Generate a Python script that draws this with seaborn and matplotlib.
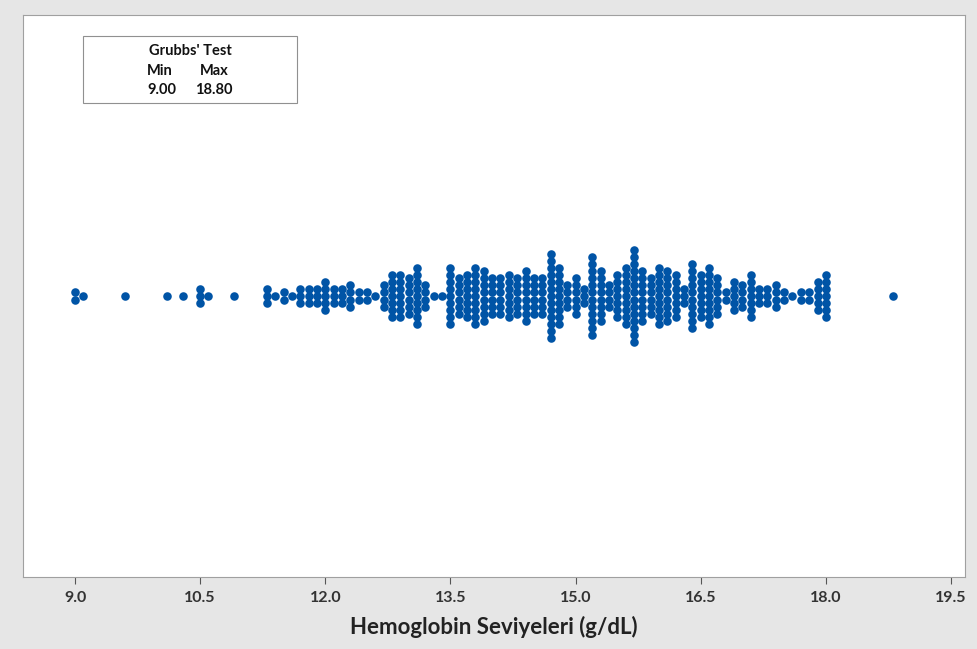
import numpy as np
import pandas as pd
import matplotlib
matplotlib.use("Agg")
import matplotlib.pyplot as plt
import seaborn as sns

# Hemoglobin values (g/dL) and how many observations share each value
hb_values = [9.0, 9.1, 9.6, 10.1, 10.3, 10.5, 10.6, 10.9,
             11.3, 11.4, 11.5, 11.6, 11.7, 11.8, 11.9, 12.0, 12.1, 12.2, 12.3, 12.4,
             12.5, 12.6, 12.7, 12.8, 12.9, 13.0, 13.1, 13.2, 13.3, 13.4, 13.5, 13.6,
             13.7, 13.8, 13.9, 14.0, 14.1, 14.2, 14.3, 14.4, 14.5, 14.6, 14.7, 14.8,
             14.9, 15.0, 15.1, 15.2, 15.3, 15.4, 15.5, 15.6, 15.7, 15.8, 15.9, 16.0,
             16.1, 16.2, 16.3, 16.4, 16.5, 16.6, 16.7, 16.8, 16.9, 17.0, 17.1, 17.2,
             17.3, 17.4, 17.5, 17.6, 17.7, 17.8, 17.9, 18.0, 18.8]
hb_counts = [2, 1, 1, 1, 1, 3, 1, 1,
             3, 1, 2, 1, 3, 3, 3, 5, 3, 3, 4, 2,
             2, 1, 4, 7, 7, 6, 9, 4, 1, 1, 9, 6,
             7, 9, 8, 6, 6, 7, 6, 8, 6, 6, 13, 9,
             4, 6, 3, 12, 8, 4, 7, 9, 14, 8, 6, 9,
             8, 7, 3, 10, 7, 9, 6, 2, 5, 4, 7, 3,
             3, 4, 2, 1, 2, 2, 5, 7, 1]
x_ticks = [9.0, 10.5, 12.0, 13.5, 15.0, 16.5, 18.0, 19.5]
grubbs_min = "9.00"
grubbs_max = "18.80"

# symmetric stacking of identical values (dot-plot layout)
step = 0.0252
xs, ys = [], []
for v, n in zip(hb_values, hb_counts):
    for i in range(n):
        xs.append(v)
        ys.append((i - (n - 1) / 2) * step)
df = pd.DataFrame({"Hb": xs, "stack": ys})

sns.set_theme(style="white")
plt.rcParams['font.family'] = ['Lato', 'DejaVu Sans']

fig = plt.figure(figsize=(9.77, 6.49), dpi=100, facecolor="#E6E6E6")
ax = fig.add_axes([23/977, 72/649, 942/977, 562/649])
ax.set_facecolor("white")

sns.scatterplot(data=df, x="Hb", y="stack", ax=ax, color="#0054A6",
                s=38, linewidth=0, legend=False)

ax.set_xlim(8.3765, 19.668)
ax.set_ylim(-1, 1)
ax.set_xticks(x_ticks)
ax.set_xticklabels([f"{t:.1f}" for t in x_ticks])
ax.set_yticks([])
ax.set_ylabel("")
ax.set_xlabel("Hemoglobin Seviyeleri (g/dL)", fontsize=16, fontweight="bold",
              color="#222222", labelpad=8)
ax.tick_params(axis="x", bottom=True, direction="out", length=5, width=0.8,
               color="#555555", labelsize=11.5, labelcolor="#333333", pad=5)
for lab in ax.get_xticklabels():
    lab.set_fontweight("bold")
for sp in ax.spines.values():
    sp.set_color("#A0A0A0")
    sp.set_linewidth(0.8)

# Grubbs' test box
box = plt.Rectangle((83/977, 1 - 103/649), 214/977, 67/649, transform=fig.transFigure,
                    facecolor="white", edgecolor="#909090", linewidth=0.8, zorder=5)
fig.add_artist(box)
tkw = dict(ha="center", va="center", fontsize=10.5, fontweight="bold",
           color="#111111", zorder=6)
fig.text(190/977, 1 - 51/649, "Grubbs' Test", **tkw)
fig.text(160/977, 1 - 71/649, "Min", **tkw)
fig.text(214/977, 1 - 71/649, "Max", **tkw)
fig.text(162/977, 1 - 90/649, grubbs_min, **tkw)
fig.text(214/977, 1 - 90/649, grubbs_max, **tkw)

fig.savefig("out.png", dpi=100, facecolor=fig.get_facecolor())
